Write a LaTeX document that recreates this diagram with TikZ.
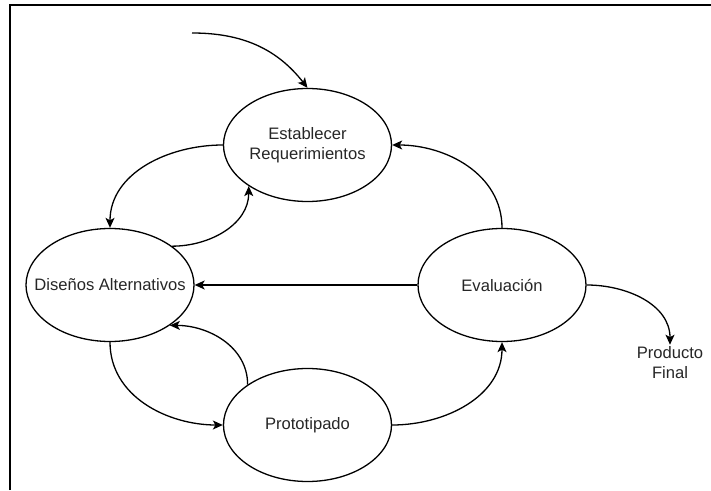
\documentclass[tikz,border=0pt]{standalone}
\usepackage{fontspec}
\setmainfont{Liberation Sans}
\usetikzlibrary{shapes.geometric,arrows.meta}
\begin{document}
\begin{tikzpicture}[x=1pt,y=1pt,
  font=\fontsize{16.6}{20}\selectfont,
  stage/.style={ellipse,draw,line width=1.3pt,minimum width=168pt,minimum height=113pt,inner sep=0pt,text=black!85},
  link/.style={line width=1.3pt,-{Stealth[length=10pt,width=9pt,inset=2.5pt]}},
  frame/.style={line width=1.8pt}]
  \useasboundingbox (0,0) rectangle (711,490);
  % open frame: left and top edges only
  \draw[frame] (10,0) -- (10,485) -- (711,485);

  % process stages
  \node[stage,label={[align=center,text=black!85]center:Establecer\\Requerimientos}] (er) at (307.5,345) {};
  \node[stage,label={[text=black!85]center:Diseños Alternativos}] (da) at (110,205) {};
  \node[stage,label={[text=black!85]center:Evaluación}] (ev) at (502,205) {};
  \node[stage,label={[text=black!85]center:Prototipado}] (pr) at (307.5,65) {};
  \node[align=center,text=black!85,inner sep=2pt] (pf) at (670,127) {Producto\\Final};

  % entry point of the cycle
  \coordinate (start) at (192,457);

  % connectors
  \draw[link] (start) to[out=0,in=128] (er.north);
  \draw[link] (er.west) to[out=180,in=90] (da.north);
  \draw[link] (da.32) to[out=0,in=270] (er.215);
  \draw[link] (ev.north) to[out=90,in=0] (er.east);
  \draw[link] (ev.west) -- (da.east);
  \draw[link] (ev.east) to[out=0,in=90] (pf.north);
  \draw[link] (pr.east) to[out=0,in=270] (ev.south);
  \draw[link] (pr.146) to[out=90,in=0] (da.326);
  \draw[link] (da.south) to[out=270,in=180] (pr.west);
\end{tikzpicture}
\end{document}
